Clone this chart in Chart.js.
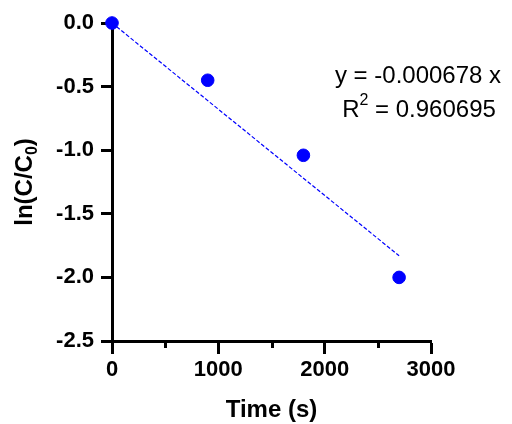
<!DOCTYPE html>
<html lang="en">
<head>
    <meta charset="UTF-8">
    <title>ln(C/C0) vs Time</title>
    <script src="https://cdn.jsdelivr.net/npm/chart.js"></script>
    <style>
        html, body {
            margin: 0;
            padding: 0;
            background-color: white;
        }
        .chart-container {
            width: 512px;
            height: 424px;
        }
    </style>
</head>
<body>
    <div class="chart-container">
        <canvas id="rateChart"></canvas>
    </div>

    <script>
        // Measured points
        const timeValues = [0, 900, 1800, 2700];
        const lnValues = [0, -0.45, -1.04, -2.0];

        // Fitted line end points (y = -0.000678 x)
        const fitTime = [0, 2700];
        const fitLn = [0, -1.83];

        const equationText = 'y = -0.000678 x';
        const r2Value = '0.960695';
        const minorTicks = [500, 1500, 2500];

        const FONT = '"Liberation Sans", Arial, sans-serif';
        const BLUE = '#0000ff';

        // Draw axis titles, equation text and minor x ticks
        const extrasPlugin = {
            id: 'extras',
            afterDraw(chart) {
                const ctx = chart.ctx;
                const xs = chart.scales.x;
                const area = chart.chartArea;
                ctx.save();

                // minor ticks on the x axis
                ctx.strokeStyle = '#000';
                ctx.lineWidth = 3;
                minorTicks.forEach(v => {
                    const px = Math.round(xs.getPixelForValue(v)) + 0.5;
                    ctx.beginPath();
                    ctx.moveTo(px, area.bottom);
                    ctx.lineTo(px, area.bottom + 7);
                    ctx.stroke();
                });

                ctx.fillStyle = '#000';

                // x title
                ctx.font = 'bold 24px ' + FONT;
                ctx.textAlign = 'center';
                ctx.textBaseline = 'alphabetic';
                ctx.fillText('Time (s)', (area.left + area.right) / 2, 417);

                // y title with subscript
                ctx.save();
                ctx.translate(32, (area.top + area.bottom) / 2);
                ctx.rotate(-Math.PI / 2);
                const main = 'ln(C/C';
                const sub = '0';
                const close = ')';
                ctx.font = 'bold 24px ' + FONT;
                const wMain = ctx.measureText(main).width;
                const wClose = ctx.measureText(close).width;
                ctx.font = 'bold 16px ' + FONT;
                const wSub = ctx.measureText(sub).width;
                const x0 = -(wMain + wSub + wClose) / 2;
                ctx.textAlign = 'left';
                ctx.font = 'bold 24px ' + FONT;
                ctx.fillText(main, x0, 0);
                ctx.font = 'bold 16px ' + FONT;
                ctx.fillText(sub, x0 + wMain, 5);
                ctx.font = 'bold 24px ' + FONT;
                ctx.fillText(close, x0 + wMain + wSub, 0);
                ctx.restore();

                // equation text
                ctx.font = '24px ' + FONT;
                ctx.textAlign = 'center';
                ctx.fillText(equationText, 418, 83);
                const rMain = 'R';
                const rRest = ' = ' + r2Value;
                const wR = ctx.measureText(rMain).width;
                const wRest = ctx.measureText(rRest).width;
                ctx.font = '16px ' + FONT;
                const wSup = ctx.measureText('2').width;
                const rx = 419 - (wR + wSup + wRest) / 2;
                ctx.textAlign = 'left';
                ctx.font = '24px ' + FONT;
                ctx.fillText(rMain, rx, 117);
                ctx.font = '16px ' + FONT;
                ctx.fillText('2', rx + wR, 105);
                ctx.font = '24px ' + FONT;
                ctx.fillText(rRest, rx + wR + wSup, 117);

                ctx.restore();
            }
        };

        const chart = new Chart(document.getElementById('rateChart'), {
            type: 'scatter',
            data: {
                datasets: [
                    {
                        label: 'Data',
                        data: timeValues.map((t, i) => ({ x: t, y: lnValues[i] })),
                        backgroundColor: BLUE,
                        borderColor: BLUE,
                        pointRadius: 6.3,
                        clip: false
                    },
                    {
                        type: 'line',
                        label: 'Fit',
                        data: fitTime.map((t, i) => ({ x: t, y: fitLn[i] })),
                        borderColor: BLUE,
                        borderWidth: 1.2,
                        borderDash: [4, 2],
                        pointRadius: 0,
                        fill: false,
                        clip: false
                    }
                ]
            },
            options: {
                responsive: true,
                maintainAspectRatio: false,
                animation: false,
                layout: {
                    padding: { left: 0, top: 23, right: 81, bottom: 0 }
                },
                plugins: {
                    legend: { display: false },
                    tooltip: { enabled: false }
                },
                scales: {
                    x: {
                        type: 'linear',
                        min: 0,
                        max: 3000,
                        afterFit: s => { s.height = 83; },
                        border: { display: true, color: '#000', width: 3 },
                        grid: {
                            drawOnChartArea: false,
                            drawTicks: true,
                            tickLength: 13,
                            tickWidth: 3,
                            tickColor: '#000'
                        },
                        ticks: {
                            stepSize: 1000,
                            padding: 3,
                            color: '#000',
                            font: { family: FONT, size: 22, weight: 'bold' },
                            callback: v => String(v)
                        }
                    },
                    y: {
                        type: 'linear',
                        min: -2.5,
                        max: 0,
                        afterFit: s => { s.width = 112; },
                        border: { display: true, color: '#000', width: 3 },
                        grid: {
                            drawOnChartArea: false,
                            drawTicks: true,
                            tickLength: 11,
                            tickWidth: 3,
                            tickColor: '#000'
                        },
                        ticks: {
                            stepSize: 0.5,
                            padding: 7,
                            color: '#000',
                            font: { family: FONT, size: 22, weight: 'bold' },
                            callback: v => v.toFixed(1)
                        }
                    }
                }
            },
            plugins: [extrasPlugin]
        });
    </script>
</body>
</html>
